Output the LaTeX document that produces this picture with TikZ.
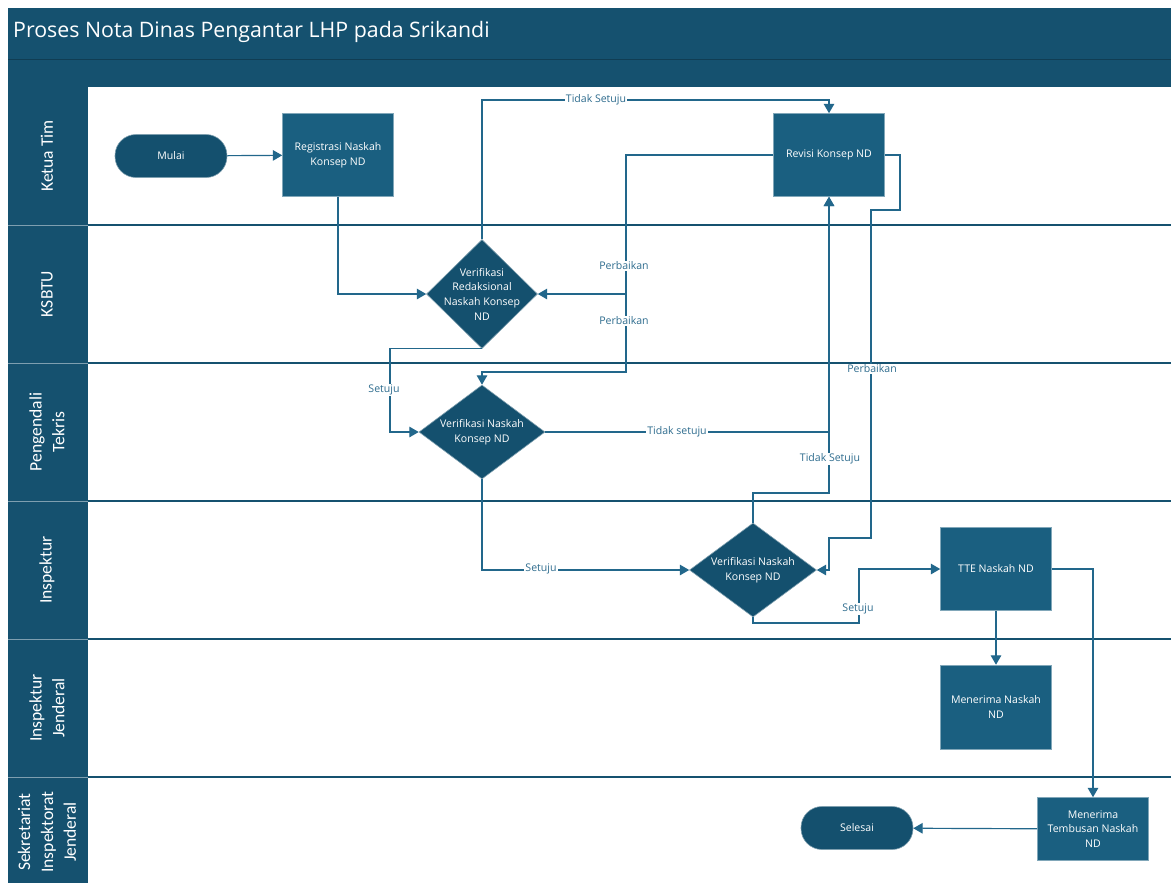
\documentclass[tikz,border=0pt]{standalone}
\usepackage{fontspec}
\setmainfont{Open Sans}
\newfontfamily\lanefont{Carlito}
\usetikzlibrary{arrows.meta,shapes.geometric}
\definecolor{hdr}{HTML}{15516F}
\definecolor{boxc}{HTML}{1A5F80}
\definecolor{dia}{HTML}{14506E}
\definecolor{lnc}{HTML}{22678B}
\definecolor{labc}{HTML}{2E6C8E}
\newdimen\px \px=0.03cm
\tikzset{
  proc/.style={fill=boxc, draw=boxc!55!white, line width=0.5pt, text=white, minimum width=111\px, minimum height=83\px, align=center, inner sep=1pt, font=\fontsize{9}{12.5}\selectfont},
  term/.style={fill=dia, draw=dia!55!white, line width=0.5pt, text=white, minimum width=112\px, minimum height=43\px, rounded corners=21\px, align=center, font=\fontsize{9}{12.5}\selectfont},
  dmd/.style={diamond, fill=dia, draw=dia!55!white, line width=0.5pt, inner sep=0pt},
  dtext/.style={text=white, align=center, inner sep=0pt, font=\fontsize{9}{12.5}\selectfont},
  conn/.style={draw=lnc, line width=1pt, -{Triangle[length=8pt,width=9pt]}},
  lbl/.style={fill=white, text=labc, inner sep=1pt, font=\fontsize{9}{11}\selectfont},
  lanelbl/.style={text=white, rotate=90, align=center, font=\lanefont\fontsize{15}{19.5}\selectfont},
  laneline/.style={draw=hdr, line width=1.6pt},
  colline/.style={draw=hdr!55!white, line width=0.6pt}
}
\begin{document}
\begin{tikzpicture}[x=0.03cm, y=-0.03cm]
\useasboundingbox (0,0) rectangle (1171,883);
\fill[white] (0,0) rectangle (1171,883);
% header
\fill[hdr] (8,8) rectangle (1171,87);
\draw[hdr!75!black, line width=0.8pt] (8,59) -- (1171,59);
\node[anchor=west, text=white, font=\fontsize{18.2}{22}\selectfont, inner sep=0pt] (title) at (13,32) {Proses Nota Dinas Pengantar LHP pada Srikandi};
% lane column
\fill[hdr] (8,87) rectangle (88,883);
\foreach \y in {225,363,501,639,777} {
  \draw[colline] (8,\y) -- (88,\y);
  \draw[laneline] (88,\y) -- (1171,\y);
}
\node[lanelbl] (l1) at (47,156) {Ketua Tim};
\node[lanelbl] (l2) at (47,294) {KSBTU};
\node[lanelbl] (l3) at (47,432) {Pengendali\\Tekris};
\node[lanelbl] (l4) at (47,570) {Inspektur};
\node[lanelbl] (l5) at (47,708) {Inspektur\\Jenderal};
\node[lanelbl] (l6) at (47,832) {Sekretariat\\Inspektorat\\Jenderal};
% nodes
\node[term] (mulai) at (171,156) {Mulai};
\node[proc] (reg) at (338,155) {Registrasi Naskah\\Konsep ND};
\node[proc] (rev) at (829,155) {Revisi Konsep ND};
\node[dmd, minimum width=111\px, minimum height=109\px] (d1) at (482,294) {};
\node[dtext] (d1t) at (d1.center) {Verifikasi\\Redaksional\\Naskah Konsep\\ND};
\node[dmd, minimum width=126\px, minimum height=94\px] (d2) at (482,432) {};
\node[dtext] (d2t) at (d2.center) {Verifikasi Naskah\\Konsep ND};
\node[dmd, minimum width=127\px, minimum height=94\px] (d3) at (753,570) {};
\node[dtext] (d3t) at (d3.center) {Verifikasi Naskah\\Konsep ND};
\node[proc] (tte) at (996,569) {TTE Naskah ND};
\node[proc, minimum height=84\px] (men) at (996,707) {Menerima Naskah\\ND};
\node[proc, minimum height=63\px] (temb) at (1093,829) {Menerima\\Tembusan Naskah\\ND};
\node[term] (sel) at (857,828) {Selesai};
% connectors
\draw[conn] (mulai) -- (reg);
\draw[conn] (reg.south) |- (d1.west);
\draw[conn] (d1.north) |- (700,100) -| (rev.north);
\draw[conn] (rev.west) -| (626,294) -- (d1.east);
\draw[conn] (rev.west) -| (626,372) -| (d2.north);
\draw[conn] (d1.south) -| (390,400) |- (d2.west);
\draw[conn] (d2.east) -| (rev.south);
\draw[conn] (d3.north) |- (800,493) -| (rev.south);
\draw[conn] (rev.east) -| (900,210) -| (871,538) -| (829,560) |- (d3.east);
\draw[conn] (d2.south) |- (d3.west);
\draw[conn] (d3.south) |- (859,623) |- (tte.west);
\draw[conn] (tte) -- (men);
\draw[conn] (tte.east) -| (temb.north);
\draw[conn] (temb) -- (sel);
% labels
\node[lbl] (a1) at (596,100) {Tidak Setuju};
\node[lbl] (a2) at (624,266) {Perbaikan};
\node[lbl] (a3) at (624,321) {Perbaikan};
\node[lbl] (a4) at (384,390) {Setuju};
\node[lbl] (a5) at (677,432) {Tidak setuju};
\node[lbl] (a6) at (830,459) {Tidak Setuju};
\node[lbl] (a7) at (872,369) {Perbaikan};
\node[lbl] (a8) at (541,569) {Setuju};
\node[lbl] (a9) at (858,609) {Setuju};
\end{tikzpicture}
\end{document}
